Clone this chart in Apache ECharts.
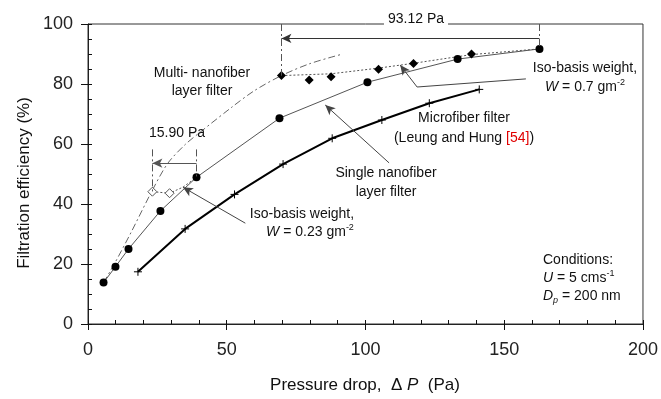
<!DOCTYPE html>
<html>
<head>
<meta charset="utf-8">
<script src="https://cdn.jsdelivr.net/npm/echarts@6/dist/echarts.min.js"></script>
<style>
  html, body { margin: 0; padding: 0; background: #fff; }
  #chart { width: 661px; height: 399px; }
</style>
</head>
<body>
<div id="chart"></div>
<script>
// Pressure drop (Pa) vs filtration efficiency (%)
const singleDP  = [5.6, 9.9, 14.6, 26.1, 39.1, 69.0, 100.7, 133.2, 162.7];
const singleEff = [13.8, 19.1, 25.0, 37.7, 48.9, 68.6, 80.6, 88.3, 91.7];

const multiDP  = [5.6, 9.6, 15.5, 23.2, 28.7, 35.0, 40.5, 52.0, 60.0, 69.7, 80.0, 91.8];
const multiEff = [13.8, 20.2, 30.5, 44.6, 53.5, 59.8, 64.0, 72.4, 77.8, 82.8, 86.8, 90.0];

const microDP  = [18.0, 35.0, 52.8, 70.3, 88.0, 105.9, 123.0, 141.0];
const microEff = [17.4, 31.7, 43.2, 53.3, 61.9, 68.0, 73.6, 78.2];

// iso-basis weight W = 0.23 g/m2
const isoLowDP  = [23.2, 29.4, 34.2, 39.1];
const isoLowEff = [44.1, 43.6, 45.6, 48.9];
const isoLowPtDP  = [23.2, 29.4];
const isoLowPtEff = [44.1, 43.6];

// iso-basis weight W = 0.7 g/m2
const isoHighLineDP  = [69.7, 87.6, 104.7, 117.3, 138.2, 162.7];
const isoHighLineEff = [82.8, 83.4, 85.3, 86.9, 89.8, 91.7];
const isoHighPtDP  = [69.7, 79.7, 87.6, 104.7, 117.3, 138.2];
const isoHighPtEff = [82.8, 81.3, 82.4, 84.9, 86.8, 90.0];

// pressure-drop savings marked with arrows
const gapHigh = { from: 162.7, to: 69.7, level: 95.2, topFrom: 91.7, topTo: 82.8 };
const gapLow  = { from: 39.1, to: 23.2, level: 53.6, topFrom: 48.9, topTo: 44.1 };

const xTickStep = 50, yTickStep = 20;

const FF = '"Liberation Sans", Arial, Helvetica, sans-serif';
const INK = '#111';
const zip = (a, b) => a.map((v, i) => [v, b[i]]);

const chart = echarts.init(document.getElementById('chart'), null, { renderer: 'canvas' });

const dashDot = [7, 3, 2, 3];
const dotted = [2, 2];

function seg(p1, p2, arrowEnd, style) {
  return [
    { coord: p1, symbol: 'none', lineStyle: style },
    { coord: p2, symbol: arrowEnd ? 'arrow' : 'none', symbolSize: [7, 10] }
  ];
}

const thin = { color: '#444', width: 1, type: 'solid' };
const refDash = { color: '#555', width: 1, type: dashDot };

function txt(x, y, text, extra) {
  return {
    type: 'text', x: x, y: y, z: 100, silent: true,
    style: Object.assign({
      text: text, fontSize: 14, fontFamily: FF, fill: INK,
      align: 'center', textAlign: 'center',
      verticalAlign: 'middle', textVerticalAlign: 'middle',
      lineHeight: 18
    }, extra || {})
  };
}
const richBase = {
  i: { fontStyle: 'italic', fontSize: 14, fontFamily: FF, fill: INK, lineHeight: 18 },
  s: { fontSize: 9, fontFamily: FF, fill: INK, lineHeight: 10, verticalAlign: 'top' },
  b: { fontStyle: 'italic', fontSize: 9, fontFamily: FF, fill: INK, lineHeight: 10, verticalAlign: 'bottom' },
  r: { fontSize: 14, fontFamily: FF, fill: '#e00000', lineHeight: 18 }
};

const tickLine = { color: '#111', width: 1 };

function mainAxis(min, max, step, pos, tickLen, margin) {
  return {
    type: 'value', min: min, max: max, interval: step, position: pos,
    splitLine: { show: false },
    axisLine: { show: true, onZero: false, lineStyle: { color: '#222', width: 1 } },
    axisTick: { show: true, length: tickLen, lineStyle: tickLine },
    axisLabel: { fontSize: 18, fontFamily: FF, color: '#222', margin: margin }
  };
}
function minorAxis(min, max, step, pos, split) {
  return {
    type: 'value', min: min, max: max, interval: step, position: pos,
    splitLine: { show: false },
    axisLine: { show: false },
    axisLabel: { show: false },
    axisTick: { show: true, inside: true, length: 4, lineStyle: tickLine },
    minorTick: { show: true, splitNumber: split, length: 4, lineStyle: tickLine }
  };
}

const option = {
  animation: false,
  backgroundColor: '#fff',
  grid: {
    left: 88, top: 24, right: 17, bottom: 75,
    show: true, borderColor: '#333', borderWidth: 1
  },
  xAxis: [
    mainAxis(0, 200, xTickStep, 'bottom', 6, 17),
    minorAxis(0, 200, xTickStep, 'bottom', 5)
  ],
  yAxis: [
    mainAxis(0, 100, yTickStep, 'left', 7, 15),
    minorAxis(0, 100, yTickStep, 'left', 4)
  ],
  series: [
    {
      name: 'Multi-layer', type: 'line', data: zip(multiDP, multiEff),
      smooth: 0.3, symbol: 'none', silent: true,
      lineStyle: { color: '#666', width: 1, type: dashDot }, z: 2
    },
    {
      name: 'Iso 0.23', type: 'line', data: zip(isoLowDP, isoLowEff),
      symbol: 'none', silent: true,
      lineStyle: { color: '#555', width: 1, type: dotted }, z: 2
    },
    {
      name: 'Iso 0.7', type: 'line', data: zip(isoHighLineDP, isoHighLineEff),
      symbol: 'none', silent: true,
      lineStyle: { color: '#555', width: 1, type: dotted }, z: 2
    },
    {
      name: 'Single', type: 'line', data: zip(singleDP, singleEff),
      symbol: 'circle', symbolSize: 8, showAllSymbol: true, silent: true,
      itemStyle: { color: '#000', opacity: 1 },
      lineStyle: { color: '#555', width: 1 }, z: 3
    },
    {
      name: 'Microfiber', type: 'line', data: zip(microDP, microEff),
      symbol: 'path://M5,0L5,10M0,5L10,5', symbolSize: 8, showAllSymbol: true, silent: true,
      itemStyle: { color: '#000', borderColor: '#000', borderWidth: 1, opacity: 1 },
      lineStyle: { color: '#000', width: 2 }, z: 3
    },
    {
      name: 'Iso 0.23 points', type: 'scatter', data: zip(isoLowPtDP, isoLowPtEff),
      symbol: 'diamond', symbolSize: 9, silent: true,
      itemStyle: { color: '#fff', borderColor: '#555', borderWidth: 1, opacity: 1 }, z: 4
    },
    {
      name: 'Iso 0.7 points', type: 'scatter', data: zip(isoHighPtDP, isoHighPtEff),
      symbol: 'diamond', symbolSize: 9, silent: true,
      itemStyle: { color: '#000', opacity: 1 }, z: 4
    },
    {
      name: 'Annotations', type: 'line', data: [], silent: true, z: 5,
      markLine: {
        silent: true, animation: false,
        label: { show: false },
        symbol: ['none', 'none'],
        emphasis: { disabled: true },
        data: [
          seg([gapHigh.to, 100], [gapHigh.to, gapHigh.topTo], false, refDash),
          seg([gapHigh.from, 100], [gapHigh.from, gapHigh.topFrom], false, refDash),
          seg([gapHigh.from, gapHigh.level], [gapHigh.to, gapHigh.level], true, { color: '#333', width: 1, type: 'solid' }),
          seg([gapLow.to, 58.2], [gapLow.to, gapLow.topTo], false, refDash),
          seg([gapLow.from, 58.2], [gapLow.from, gapLow.topFrom], false, refDash),
          seg([gapLow.from, gapLow.level], [gapLow.to, gapLow.level], true, { color: '#555', width: 1, type: 'solid' }),
          // label leaders
          seg([157.8, 81.7], [118.6, 79.0], false, thin),
          seg([118.6, 79.0], [112.5, 86.3], true, thin),
          seg([108.5, 53.7], [85.5, 73.0], true, thin),
          seg([56.7, 33.6], [34.2, 45.6], true, thin)
        ]
      }
    }
  ],
  graphic: [
    txt(416, 19, '93.12 Pa', { backgroundColor: '#fff', padding: [2, 4], fontSize: 14 }),
    txt(177, 133, '15.90 Pa'),
    txt(202, 73, 'Multi- nanofiber'),
    txt(202, 91, 'layer filter'),
    txt(386, 173, 'Single nanofiber'),
    txt(386, 192, 'layer filter'),
    txt(464, 118, 'Microfiber filter'),
    txt(464, 138, '(Leung and Hung {r|[54]})', { rich: richBase }),
    txt(585, 68, 'Iso-basis weight,'),
    txt(585, 87, '{i|W} = 0.7 gm{s|-2}', { rich: richBase }),
    txt(302, 214, 'Iso-basis weight,'),
    txt(310, 232, '{i|W} = 0.23 gm{s|-2}', { rich: richBase }),
    txt(543, 260, 'Conditions:', { align: 'left', textAlign: 'left' }),
    txt(543, 278, '{i|U} = 5 cms{s|-1}', { align: 'left', textAlign: 'left', rich: richBase }),
    txt(543, 296, '{i|D}{b|p} = 200 nm', { align: 'left', textAlign: 'left', rich: richBase }),
    txt(365, 385, 'Pressure drop,  \u0394 {i|P}  (Pa)', {
      fontSize: 17, rich: { i: { fontStyle: 'italic', fontSize: 17, fontFamily: FF, fill: INK } }
    }),
    {
      type: 'text', x: 24, y: 183, rotation: Math.PI / 2, z: 100, silent: true,
      style: {
        text: 'Filtration efficiency (%)', fontSize: 17, fontFamily: FF, fill: INK,
        align: 'center', textAlign: 'center', verticalAlign: 'middle', textVerticalAlign: 'middle'
      }
    }
  ]
};

chart.setOption(option);
</script>
</body>
</html>
